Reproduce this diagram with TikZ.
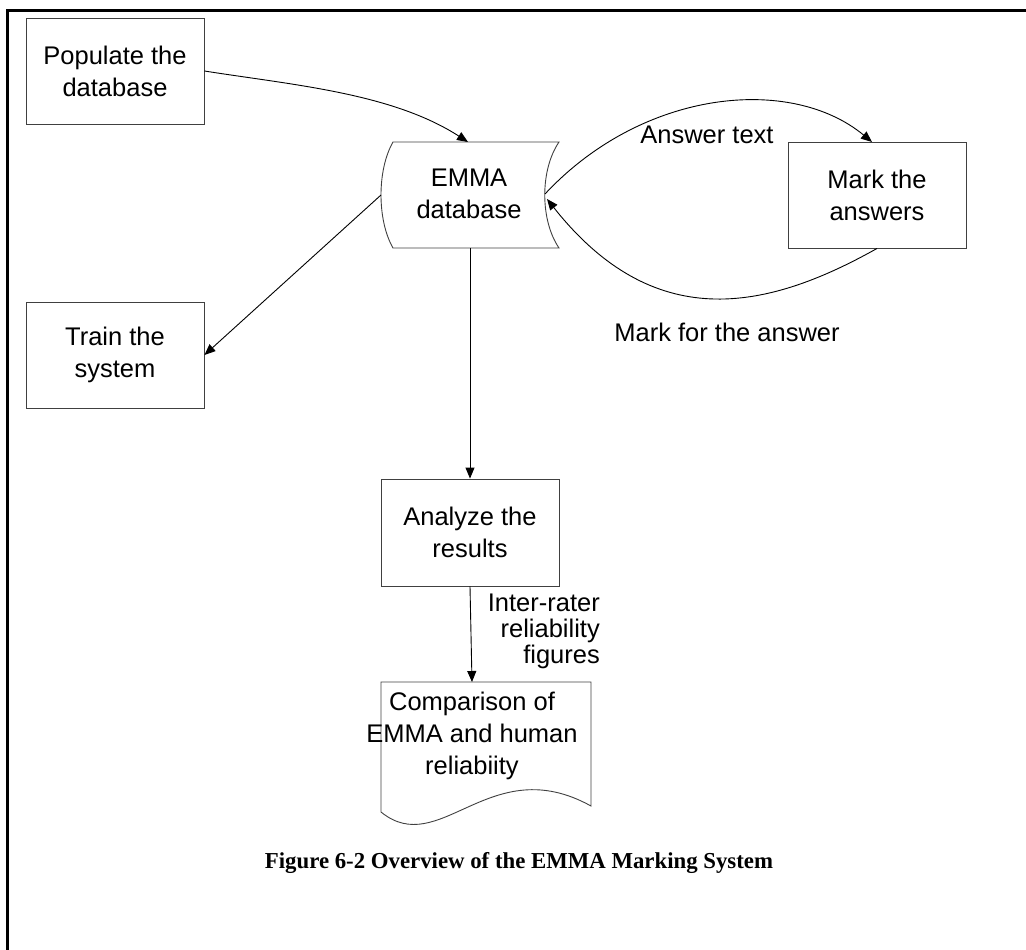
\documentclass[tikz,border=0pt]{standalone}
\usepackage{fontspec}
\setmainfont{Liberation Sans}
\newfontfamily\capfont{Liberation Serif}
\usetikzlibrary{arrows.meta}
\begin{document}
\begin{tikzpicture}[x=1pt,y=-1pt,
  box/.style={draw=black!75, line width=0.9pt, minimum width=178pt, minimum height=106pt, align=center, font=\fontsize{25.5}{32}\selectfont, inner sep=0pt},
  shapeline/.style={draw=black!75, line width=0.9pt},
  lbl/.style={font=\fontsize{25.5}{32}\selectfont, align=center, inner sep=0pt},
  conn/.style={draw, line width=0.9pt, -{Triangle[length=11pt,width=9pt]}}]
\useasboundingbox (0,0) rectangle (1026,950);
\draw[line width=2.2pt] (1026,10.5) -- (7.5,10.5) -- (7.5,950);

\node[box] (pop) at (115,71) {Populate the\\database};
\node[box] (train) at (115,355) {Train the\\system};
\node[box] (mark) at (877,195) {Mark the\\answers};
\node[box, minimum height=107pt] (ana) at (470,532.5) {Analyze the\\results};

% EMMA database (stored data shape)
\draw[shapeline] (393,142) -- (559,142) .. controls (540,170) and (540,220) .. (559,248) -- (393,248) .. controls (377,220) and (377,170) .. cycle;
\node[lbl] (db) at (469,194) {EMMA\\database};
\coordinate (dbL) at (381,195);
\coordinate (dbR1) at (545,194);
\coordinate (dbR2) at (547,199);
\coordinate (dbT) at (468,142);
\coordinate (dbB) at (470,248);

% Document shape
\draw[shapeline] (381,682) -- (591,682) -- (591,806) .. controls (490,750) and (440,860) .. (381,812) -- cycle;
\node[lbl] (doc) at (472,736) {Comparison of\\EMMA and human\\reliabiity};
\coordinate (docT) at (472,682);
\coordinate (markT) at (872,142);

% connectors
\draw[conn] (pop.east) .. controls (293,85) and (392,93) .. (dbT);
\draw[conn] (dbL) -- (train.east);
\draw[conn] (dbB) -- (ana.north);
\draw[conn] (ana.south) -- (docT);
\draw[conn] (dbR1) .. controls (643,89) and (791,75) .. (markT);
\draw[conn] (mark.south) .. controls (764,312) and (653,333) .. (dbR2);

% labels
\node[lbl] (lat) at (707,135) {Answer text};
\node[lbl] (lmf) at (727,332) {Mark for the answer};
\node[lbl, align=right, anchor=east, font=\fontsize{25.5}{26}\selectfont] (lir) at (600,631) {Inter-rater\\reliability\\figures};
\node[font=\capfont\bfseries\fontsize{22.8}{26}\selectfont, inner sep=0pt] (cap) at (519,863) {Figure 6-2 Overview of the EMMA Marking System};
\end{tikzpicture}
\end{document}
